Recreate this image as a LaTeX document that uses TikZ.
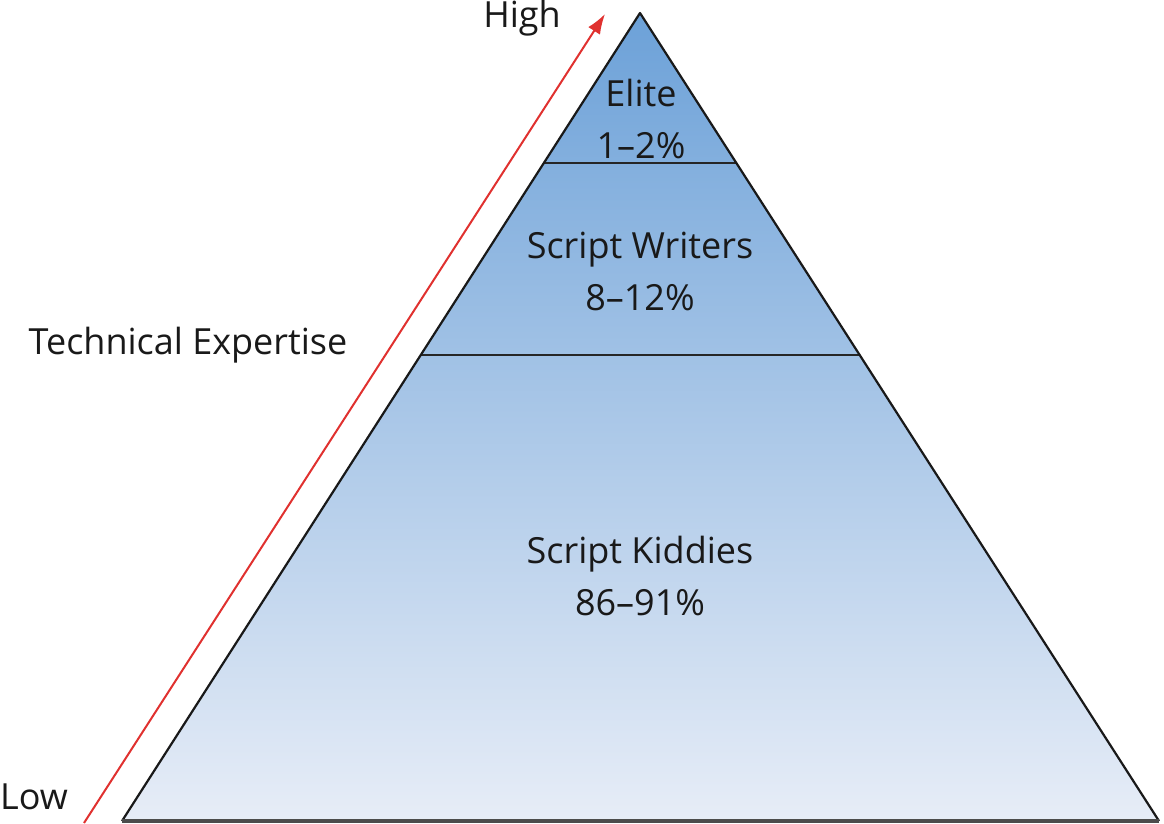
\documentclass[tikz,border=0pt]{standalone}
\usepackage{fontspec}
\setmainfont{Open Sans}
\usepackage{tikz}
\usetikzlibrary{positioning,arrows.meta,calc}
\definecolor{topblue}{HTML}{6CA1D8}
\definecolor{basebl}{HTML}{E7EDF7}
\definecolor{arrowred}{HTML}{E0312F}

\begin{document}
\begin{tikzpicture}[x=1pt, y=-1pt,
  lbl/.style={font=\fontsize{36}{52}\selectfont, text=black!90, align=center, inner sep=0pt},
  tier/.style={line width=1.8pt, black!85},
  edge/.style={line width=2.2pt, black!90},
  arr/.style={-{Latex[length=20pt, width=14pt]}, line width=2pt, arrowred},
]
\useasboundingbox (0,0) rectangle (1164,824);

% === Pyramid corners ===
\coordinate (apex) at (640,13);
\coordinate (bl) at (122,821);
\coordinate (br) at (1159,821);

% === Body with gradient ===
\shade[top color=topblue, bottom color=basebl] (apex) -- (br) -- (bl) -- cycle;

% === Tier dividers ===
\coordinate (t1l) at ($(apex)!0.1856!(bl)$);
\coordinate (t1r) at ($(apex)!0.1856!(br)$);
\coordinate (t2l) at ($(apex)!0.4233!(bl)$);
\coordinate (t2r) at ($(apex)!0.4233!(br)$);
\draw[tier] (t1l) -- (t1r);
\draw[tier] (t2l) -- (t2r);

% === Outline ===
\draw[edge, line join=round] (bl) -- (apex) -- (br);
\draw[line width=4pt, black!70] (bl) -- (br);

% === Tier labels ===
\node[lbl] (elite) at (641,119) {Elite\\1--2\%};
\node[lbl] (writers) at (640,271) {Script Writers\\8--12\%};
\node[lbl] (kiddies) at (640,576) {Script Kiddies\\86--91\%};

% === Expertise axis ===
\coordinate (low) at (84,823);
\coordinate (high) at (605,14);
\draw[arr] (low) -- (high);
\node[lbl, anchor=east] (hi) at (561,18) {High};
\node[lbl, anchor=west] (lo) at (0,797) {Low};
\node[lbl] (axis) at (188,345) {Technical Expertise};

\end{tikzpicture}
\end{document}
